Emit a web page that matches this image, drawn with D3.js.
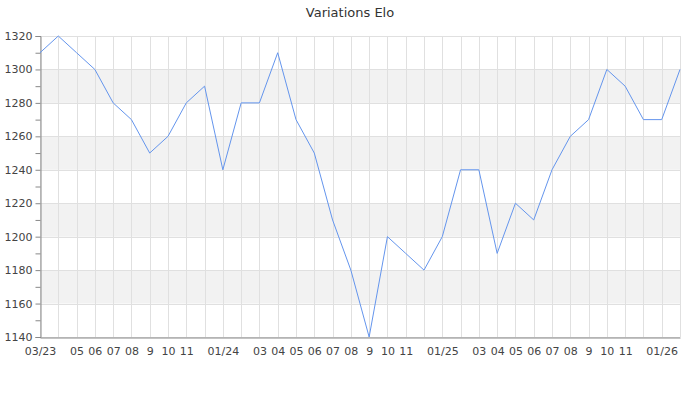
<!DOCTYPE html>
<html><head><meta charset="utf-8">
<script src="https://cdn.jsdelivr.net/npm/d3@7"></script>
<style>body{margin:0;background:#fff;} svg{display:block;font-family:"DejaVu Sans",sans-serif;}</style>
</head><body><svg id="c" width="700" height="400"></svg>
<script>
const months = ["2023-03","2023-04","2023-05","2023-06","2023-07","2023-08","2023-09","2023-10","2023-11","2023-12",
"2024-01","2024-02","2024-03","2024-04","2024-05","2024-06","2024-07","2024-08","2024-09","2024-10","2024-11","2024-12",
"2025-01","2025-02","2025-03","2025-04","2025-05","2025-06","2025-07","2025-08","2025-09","2025-10","2025-11","2025-12",
"2026-01","2026-02"];
const elo = [1310,1320,1310,1300,1280,1270,1250,1260,1280,1290,
1240,1280,1280,1310,1270,1250,1210,1180,1140,1200,1190,1180,
1200,1240,1240,1190,1220,1210,1240,1260,1270,1300,1290,1270,
1270,1300];
const tickLabels = ["03/23","","05","06","07","08","9","10","11","",
"01/24","","03","04","05","06","07","08","9","10","11","",
"01/25","","03","04","05","06","07","08","9","10","11","",
"01/26",""];
const yTicks = [1140,1160,1180,1200,1220,1240,1260,1280,1300,1320];
const title = "Variations Elo";

const svg = d3.select("#c");
const L=40, R=680, T=36, B=337;
const x = d3.scalePoint().domain(months).range([L,R]);
const y = d3.scaleLinear().domain([1140,1320]).range([B,T]);

// bands
const bands = [[1160,1180],[1200,1220],[1240,1260],[1280,1300]];
svg.append("g").selectAll("rect").data(bands).join("rect")
  .attr("x",L).attr("width",R-L).attr("y",d=>y(d[1])).attr("height",d=>y(d[0])-y(d[1]))
  .attr("fill","#f2f2f2");

// horizontal grid
svg.append("g").selectAll("line").data(yTicks).join("line")
  .attr("x1",L).attr("x2",R).attr("y1",d=>Math.round(y(d))+0.5).attr("y2",d=>Math.round(y(d))+0.5)
  .attr("stroke","#e0e0e0");
// vertical grid
svg.append("g").selectAll("line").data(months).join("line")
  .attr("x1",d=>Math.round(x(d))+0.5).attr("x2",d=>Math.round(x(d))+0.5).attr("y1",T).attr("y2",B)
  .attr("stroke","#e0e0e0");

// y axis
const yAxis = d3.axisLeft(y).tickValues(d3.range(1140,1321,10)).tickSize(5)
  .tickFormat(d=>d%20===0?d:"");
const gy = svg.append("g").attr("transform",`translate(${L+0.5},0)`).call(yAxis);
gy.select(".domain").attr("stroke","#888");
gy.selectAll(".tick line").attr("stroke","#888");
gy.selectAll("text").attr("fill","#444").attr("font-size",11).attr("font-family","DejaVu Sans");

// x axis
const xAxis = d3.axisBottom(x).tickSize(0).tickPadding(10).tickFormat((d,i)=>tickLabels[i]);
const gx = svg.append("g").attr("transform",`translate(0,${B+0.5})`).call(xAxis);
gx.select(".domain").attr("stroke","#888");
gx.selectAll("text").attr("fill","#444").attr("font-size",11).attr("font-family","DejaVu Sans");

// line
svg.append("path").datum(elo)
  .attr("fill","none").attr("stroke","#6495ed").attr("stroke-width",1)
  .attr("d", d3.line().x((d,i)=>x(months[i])).y(d=>y(d)));

svg.append("text").attr("x",350).attr("y",17).attr("text-anchor","middle")
  .attr("font-size",13).attr("fill","#333").text(title);
</script></body></html>
